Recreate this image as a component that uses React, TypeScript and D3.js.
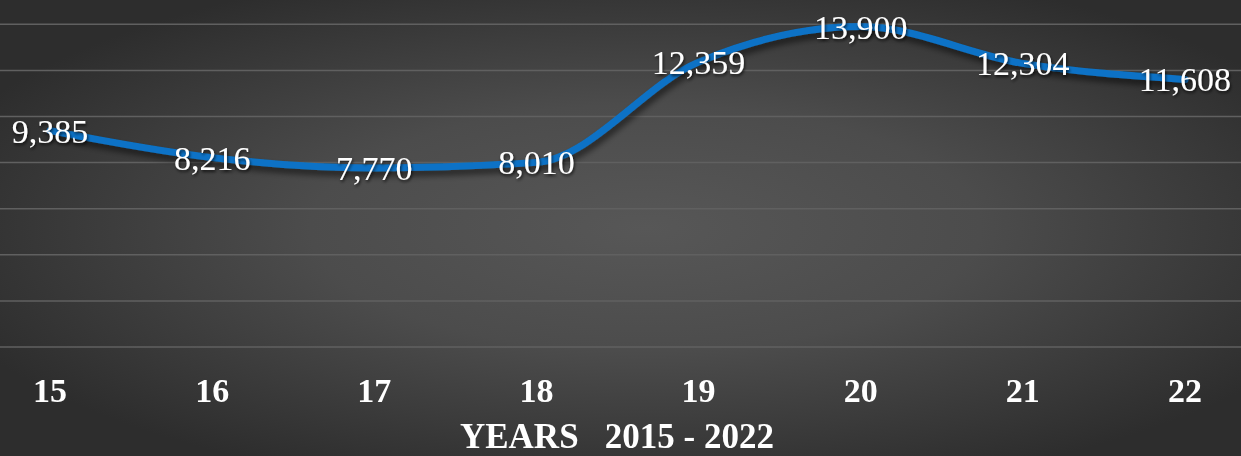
import React from "react";
import * as d3 from "d3";

const categories = ["15", "16", "17", "18", "19", "20", "21", "22"];
const values = [9385, 8216, 7770, 8010, 12359, 13900, 12304, 11608];
const yTicks = [0, 2000, 4000, 6000, 8000, 10000, 12000, 14000];
const axisTitle = "YEARS   2015 - 2022";

const W = 1241;
const H = 456;

export default function App() {
  const step = 162.14;
  const x = d3
    .scalePoint<string>()
    .domain(categories)
    .range([50, 50 + step * (categories.length - 1)]);
  const y = d3.scaleLinear().domain([0, 14000]).range([347, 24.3]);
  const line = d3
    .line<number>()
    .x((_, i) => x(categories[i]) as number)
    .y((d) => y(d))
    .curve(d3.curveMonotoneX);
  const fmt = d3.format(",");
  const serif = "'Liberation Serif', 'Times New Roman', serif";

  return (
    <svg
      width={W}
      height={H}
      style={{ position: "fixed", left: 0, top: 0, display: "block" }}
    >
      <defs>
        <radialGradient id="bg" cx="52%" cy="50%" r="60%" fx="52%" fy="50%">
          <stop offset="0%" stopColor="#575757" />
          <stop offset="45%" stopColor="#4c4c4c" />
          <stop offset="100%" stopColor="#2d2d2d" />
        </radialGradient>
        <filter id="lshadow" x="-5%" y="-20%" width="110%" height="150%">
          <feGaussianBlur in="SourceAlpha" stdDeviation="3" />
          <feOffset dx="2" dy="5" result="b" />
          <feComponentTransfer>
            <feFuncA type="linear" slope="0.55" />
          </feComponentTransfer>
          <feMerge>
            <feMergeNode />
            <feMergeNode in="SourceGraphic" />
          </feMerge>
        </filter>
        <filter id="tshadow" x="-20%" y="-30%" width="140%" height="170%">
          <feGaussianBlur in="SourceAlpha" stdDeviation="1.5" />
          <feOffset dx="1" dy="2" result="b" />
          <feComponentTransfer>
            <feFuncA type="linear" slope="0.7" />
          </feComponentTransfer>
          <feMerge>
            <feMergeNode />
            <feMergeNode in="SourceGraphic" />
          </feMerge>
        </filter>
      </defs>
      <rect x={0} y={0} width={W} height={H} fill="url(#bg)" />
      <g>
        {yTicks.map((t) => (
          <line
            key={t}
            x1={0}
            x2={W}
            y1={y(t)}
            y2={y(t)}
            stroke="#606060"
            strokeWidth={1.5}
          />
        ))}
      </g>
      <path
        d={line(values) || ""}
        fill="none"
        stroke="#0A72C6"
        strokeWidth={7}
        strokeLinecap="round"
        strokeLinejoin="round"
        filter="url(#lshadow)"
      />
      <g filter="url(#tshadow)">
        {values.map((v, i) => (
          <text
            key={i}
            x={x(categories[i])}
            y={y(v) + 12}
            textAnchor="middle"
            fontFamily={serif}
            fontSize={34}
            fill="#ffffff"
          >
            {fmt(v)}
          </text>
        ))}
      </g>
      <g>
        {categories.map((c) => (
          <text
            key={c}
            x={x(c)}
            y={402}
            textAnchor="middle"
            fontFamily={serif}
            fontWeight="bold"
            fontSize={34}
            fill="#ffffff"
          >
            {c}
          </text>
        ))}
      </g>
      <text
        x={617}
        y={448}
        textAnchor="middle"
        fontFamily={serif}
        fontWeight="bold"
        fontSize={35}
        fill="#ffffff"
        style={{ whiteSpace: "pre" }}
      >
        {axisTitle}
      </text>
    </svg>
  );
}
